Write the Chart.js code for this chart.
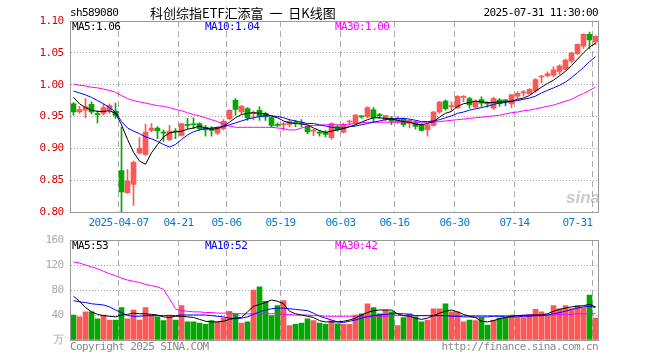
<!DOCTYPE html>
<html><head><meta charset="utf-8">
<script src="https://cdn.jsdelivr.net/npm/chart.js@4.4.1/dist/chart.umd.min.js"></script>
<style>
body{margin:0;background:#fff;}
#wrap{position:relative;width:660px;height:360px;overflow:hidden;background:#fff;}
canvas{position:absolute;left:0;}
.t{position:absolute;font-family:"DejaVu Sans Mono",monospace;font-size:11px;letter-spacing:-0.6px;line-height:12px;white-space:nowrap;}
</style></head><body>
<div id="wrap">
<canvas id="pc" width="660" height="236" style="top:0"></canvas>
<canvas id="vc" width="660" height="134" style="top:226px"></canvas>
<div class="t" style="left:70px;top:7px;color:#000">sh589080</div>
<div style="position:absolute;left:150px;top:4px;font-family:'Noto Sans CJK SC';font-size:13px;line-height:17px;color:#000;white-space:pre">科创综指ETF汇添富  一  日K线图</div>
<div class="t" style="right:62px;top:7px;color:#000">2025-07-31 11:30:00</div>
<div class="t" style="left:72px;top:21px;color:#000">MA5:1.06</div>
<div class="t" style="left:205px;top:21px;color:#0000ff">MA10:1.04</div>
<div class="t" style="left:335px;top:21px;color:#ff00ff">MA30:1.00</div>
<div class="t" style="left:72px;top:240px;color:#000">MA5:53</div>
<div class="t" style="left:205px;top:240px;color:#0000ff">MA10:52</div>
<div class="t" style="left:335px;top:240px;color:#ff00ff">MA30:42</div>
<div class="t" style="left:70px;top:341px;color:#888">Copyright 2025 SINA.COM</div>
<div class="t" style="right:62px;top:341px;color:#888">http://finance.sina.com.cn</div>
<div style="position:absolute;left:566px;top:188px;font-family:'Liberation Sans';font-weight:bold;font-style:italic;font-size:17px;color:rgba(160,160,160,0.55)">sina</div>
</div>
<script>
const dates = [
'2025-03-25','2025-03-26','2025-03-27','2025-03-28','2025-03-31','2025-04-01','2025-04-02','2025-04-03','2025-04-07','2025-04-08',
'2025-04-09','2025-04-10','2025-04-11','2025-04-14','2025-04-15','2025-04-16','2025-04-17','2025-04-18','2025-04-21','2025-04-22',
'2025-04-23','2025-04-24','2025-04-25','2025-04-28','2025-04-29','2025-04-30','2025-05-06','2025-05-07','2025-05-08','2025-05-09',
'2025-05-12','2025-05-13','2025-05-14','2025-05-15','2025-05-16','2025-05-19','2025-05-20','2025-05-21','2025-05-22','2025-05-23',
'2025-05-26','2025-05-27','2025-05-28','2025-05-29','2025-05-30','2025-06-03','2025-06-04','2025-06-05','2025-06-06','2025-06-09',
'2025-06-10','2025-06-11','2025-06-12','2025-06-13','2025-06-16','2025-06-17','2025-06-18','2025-06-19','2025-06-20','2025-06-23',
'2025-06-24','2025-06-25','2025-06-26','2025-06-27','2025-06-30','2025-07-01','2025-07-02','2025-07-03','2025-07-04','2025-07-07',
'2025-07-08','2025-07-09','2025-07-10','2025-07-11','2025-07-14','2025-07-15','2025-07-16','2025-07-17','2025-07-18','2025-07-21',
'2025-07-22','2025-07-23','2025-07-24','2025-07-25','2025-07-28','2025-07-29','2025-07-30','2025-07-31'];

const opens = [
.970,.957,.960,.969,.954,.955,.960,.9586,.865,.8303,
.8434,.8926,.8906,.9282,.932,.925,.9135,.9272,.9204,.937,
.938,.9387,.933,.931,.924,.9309,.9466,.9754,.957,.9623,
.9545,.9597,.955,.9482,.937,.937,.9377,.9405,.9405,.9346,
.927,.925,.9246,.9168,.9341,.9252,.9413,.9393,.950,.9498,
.9603,.9520,.945,.9476,.9420,.9466,.939,.9413,.9371,.9293,
.9361,.9571,.9743,.9655,.9638,.980,.978,.9645,.9765,.9723,
.963,.976,.976,.9697,.9818,.987,.9856,.990,1.012,1.014,
1.015,1.021,1.024,1.0372,1.0485,1.0603,1.0791,1.0673];
const highs = [
.972,.966,.978,.973,.959,.969,.970,.971,.9335,.8665,
.880,.917,.938,.939,.934,.929,.936,.931,.939,.947,
.948,.940,.936,.934,.934,.945,.961,.978,.9675,.964,
.959,.965,.957,.949,.940,.941,.945,.944,.945,.936,
.930,.928,.928,.940,.936,.9395,.944,.953,.951,.965,
.964,.955,.952,.950,.950,.948,.945,.943,.939,.939,
.958,.974,.976,.973,.983,.983,.980,.976,.981,.973,
.980,.978,.977,.985,.989,.991,.994,1.0094,1.0146,1.020,
1.028,1.031,1.040,1.051,1.064,1.080,1.0825,1.0772];
const lows = [
.952,.955,.948,.954,.940,.952,.955,.947,.800,.829,
.8105,.8916,.889,.926,.915,.911,.912,.915,.919,.931,
.931,.928,.919,.919,.922,.929,.945,.952,.9534,.944,
.945,.944,.944,.933,.934,.928,.934,.934,.934,.923,
.920,.919,.918,.914,.927,.924,.937,.938,.947,.948,
.942,.947,.943,.937,.939,.934,.932,.930,.927,.919,
.935,.955,.960,.959,.962,.973,.963,.963,.966,.965,
.961,.966,.967,.964,.978,.982,.985,.988,1.003,1.012,
1.012,1.016,1.023,1.034,1.047,1.057,1.0563,1.0634];
const closes = [
.957,.961,.965,.957,.953,.964,.967,.9518,.8314,.8487,
.878,.9005,.9256,.9317,.9272,.924,.9272,.9256,.9387,.936,
.937,.9309,.929,.928,.932,.9424,.9597,.9613,.966,.9482,
.9550,.9503,.9492,.9361,.936,.938,.9424,.9397,.939,.9257,
.928,.924,.9220,.9387,.9288,.9378,.9420,.9524,.9495,.964,
.9482,.9515,.9515,.9425,.9476,.9371,.944,.9345,.9282,.9371,
.9571,.9728,.9623,.966,.9817,.981,.968,.9745,.9710,.9697,
.978,.970,.974,.9839,.9862,.988,.9927,1.008,1.0135,1.017,
1.0233,1.0296,1.0385,1.0497,1.0633,1.0791,1.0702,1.0760];
const ma5 = [
.980,.970,.964,.960,.958,.958,.959,.955,.937,.914,
.894,.880,.875,.893,.906,.918,.924,.926,.927,.930,
.932,.935,.932,.930,.931,.935,.941,.948,.953,.955,
.956,.955,.954,.951,.948,.943,.940,.939,.938,.937,
.932,.928,.925,.927,.929,.931,.934,.937,.941,.945,
.948,.948,.947,.946,.944,.942,.941,.938,.937,.939,
.942,.949,.955,.958,.966,.970,.972,.974,.973,.972,
.972,.973,.973,.974,.977,.979,.983,.990,.996,1.002,
1.007,1.014,1.021,1.030,1.040,1.050,1.059,1.065];
const ma10 = [
.990,.987,.984,.980,.975,.970,.964,.957,.942,.932,
.927,.923,.918,.915,.911,.906,.902,.906,.914,.921,
.926,.929,.931,.932,.933,.934,.937,.940,.943,.946,
.948,.950,.951,.951,.950,.948,.945,.943,.941,.939,
.939,.937,.935,.933,.932,.932,.934,.935,.937,.939,
.941,.943,.945,.946,.947,.947,.946,.944,.942,.942,
.943,.945,.948,.951,.955,.957,.960,.962,.964,.966,
.969,.971,.972,.974,.975,.977,.979,.982,.987,.991,
.995,.999,1.004,1.011,1.019,1.027,1.036,1.044];
const ma30 = [
1.001,.999,.998,.996,.995,.993,.991,.988,.983,.978,
.975,.973,.971,.969,.967,.966,.964,.961,.959,.956,
.953,.951,.948,.945,.942,.938,.935,.933,.933,.933,
.933,.933,.933,.933,.932,.931,.929,.929,.932,.935,
.936,.936,.937,.937,.937,.937,.938,.939,.940,.941,
.941,.941,.941,.941,.941,.941,.941,.941,.941,.941,
.941,.942,.943,.944,.945,.946,.947,.948,.949,.950,
.951,.952,.954,.956,.957,.959,.960,.962,.964,.966,
.968,.971,.974,.977,.982,.986,.991,.996];
const volumes = [
40,37,45,45,34,40,32,32,52,34,
48,32,52,40,37,31,40,32,55,29,
29,27,25,31,29,35,46,42,27,29,
80,85,62,39,55,63,23,25,27,34,
31,27,25,31,26,25,25,40,42,58,
52,42,48,45,23,36,42,37,29,32,
50,50,58,45,45,29,32,31,36,24,
32,35,36,40,36,36,40,49,45,40,
55,50,55,50,55,52,72,35];
const volMa5 = [
70,62,52,45,41,39,38,37,40,41,
43,42,42,41,40,37,36,38,38,37,
36,33,30,29,29,30,33,35,36,45,
54,57,60,64,62,58,46,42,40,38,
36,31,29,29,29,30,32,35,40,44,
47,48,48,48,42,39,38,35,33,35,
39,43,46,48,45,41,38,36,30,29,
31,34,36,38,39,39,40,40,40,42,
46,49,51,53,54,55,57,53];
const volMa10 = [
63,61,60,58,57,56,53,48,44,39,
38,38,39,39,39,39,39,39,40,40,
40,40,40,39,38,37,35,34,35,37,
41,45,48,50,51,51,50,49,48,47,
43,38,35,32,29,28,30,32,35,37,
39,40,41,42,42,42,41,39,39,39,
39,39,39,38,38,37,37,37,37,37,
38,38,37,37,37,38,38,39,39,40,
42,44,46,49,51,53,54,52];
const volMa30 = [
125,123,120,117,114,110,106,103,99,96,
94,92,89,87,85,81,66,50,47,46,
45,45,44,44,43,43,43,42,42,42,
42,42,42,42,42,41,41,40,40,40,
39,39,38,38,38,38,38,38,38,38,
38,38,38,39,39,39,39,39,39,39,
39,39,39,39,39,39,39,39,39,39,
39,39,39,39,39,40,40,40,40,40,
40,41,41,41,42,42,42,42];
const tickDates = ['2025-04-07','2025-04-21','2025-05-06','2025-05-19','2025-06-03','2025-06-16','2025-06-30','2025-07-14','2025-07-31'];
const tickTexts = ['2025-04-07','04-21','05-06','05-19','06-03','06-16','06-30','07-14','07-31'];

const UP = '#ff5656', DN = '#00a800';
const GRID = '#aaaaaa';
const MONO = 'DejaVu Sans Mono';
const candleColor = i => closes[i] >= opens[i] ? UP : DN;
const isTick = i => i !== undefined && tickDates.indexOf(dates[i]) >= 0;

const framePlugin = {
  id: 'frame',
  beforeDraw(chart) { chart.ctx.letterSpacing = '-0.6px'; },
  afterDraw(chart) {
    const {ctx, chartArea: a} = chart;
    ctx.save();
    ctx.strokeStyle = '#999999';
    ctx.lineWidth = 1;
    ctx.setLineDash([]);
    const l = Math.floor(a.left) + 0.5, t = Math.floor(a.top) + 0.5;
    const r = Math.floor(a.right) + 0.5, b = Math.floor(a.bottom) + 0.5;
    ctx.strokeRect(l, t, r - l, b - t);
    ctx.restore();
  }
};

function xScale(showLabels, height) {
  return {
    type: 'category', offset: true,
    grid: { offset: true, drawTicks: false, lineWidth: 1,
            color: c => isTick(c.index) ? GRID : 'rgba(0,0,0,0)' },
    border: { display: false, dash: [6, 4] },
    ticks: { display: showLabels, autoSkip: false, maxRotation: 0, minRotation: 0,
             align: 'inner', labelOffset: -3, padding: 5, color: '#0a78d2',
             font: { family: MONO, size: 11 },
             callback: (v, i) => { const k = tickDates.indexOf(dates[i]); return k >= 0 ? tickTexts[k] : ''; } },
    afterFit: s => { s.height = height; }
  };
}

const lineDs = (label, data, color) => ({
  type: 'line', label, data, borderColor: color, borderWidth: 1,
  pointRadius: 0, tension: 0, fill: false, order: 0
});

new Chart(document.getElementById('pc'), {
  type: 'bar',
  data: {
    labels: dates,
    datasets: [
      lineDs('MA5', ma5, '#000000'),
      lineDs('MA10', ma10, '#0000ff'),
      lineDs('MA30', ma30, '#ff00ff'),
      { type: 'bar', label: 'body', data: opens.map((o, i) => [o, closes[i]]),
        backgroundColor: c => candleColor(c.dataIndex), barThickness: 5, minBarLength: 1,
        grouped: false, order: 1 },
      { type: 'bar', label: 'wick', data: lows.map((l, i) => [l, highs[i]]),
        backgroundColor: c => candleColor(c.dataIndex), barThickness: 1,
        grouped: false, order: 2 }
    ]
  },
  options: {
    responsive: false, devicePixelRatio: 1, animation: false, events: [],
    layout: { padding: { top: 21, right: 61.5, left: 0, bottom: 0 } },
    plugins: { legend: { display: false }, tooltip: { enabled: false } },
    scales: {
      x: xScale(true, 24),
      y: {
        min: 0.80, max: 1.10,
        grid: { drawTicks: false, color: GRID },
        border: { display: false, dash: [1, 2] },
        ticks: { stepSize: 0.05, padding: 7, color: '#e00000', font: { family: MONO, size: 11 },
                 callback: v => v.toFixed(2) },
        afterFit: s => { s.width = 70.5; }
      }
    }
  },
  plugins: [framePlugin]
});

new Chart(document.getElementById('vc'), {
  type: 'bar',
  data: {
    labels: dates,
    datasets: [
      lineDs('MA5', volMa5, '#000000'),
      lineDs('MA10', volMa10, '#0000ff'),
      lineDs('MA30', volMa30, '#ff00ff'),
      { type: 'bar', label: 'vol', data: volumes,
        backgroundColor: c => candleColor(c.dataIndex), barThickness: 5,
        grouped: false, order: 1 }
    ]
  },
  options: {
    responsive: false, devicePixelRatio: 1, animation: false, events: [],
    layout: { padding: { top: 14, right: 61.5, left: 0, bottom: 0 } },
    plugins: { legend: { display: false }, tooltip: { enabled: false } },
    scales: {
      x: xScale(false, 20),
      y: {
        min: 0, max: 160,
        grid: { drawTicks: false, color: GRID },
        border: { display: false, dash: [1, 2] },
        ticks: { stepSize: 40, padding: 7, color: '#aaaaaa', font: { family: MONO, size: 11 },
                 callback: v => v === 0 ? '万' : String(v) },
        afterFit: s => { s.width = 70.5; }
      }
    }
  },
  plugins: [framePlugin]
});
</script>
</body></html>
